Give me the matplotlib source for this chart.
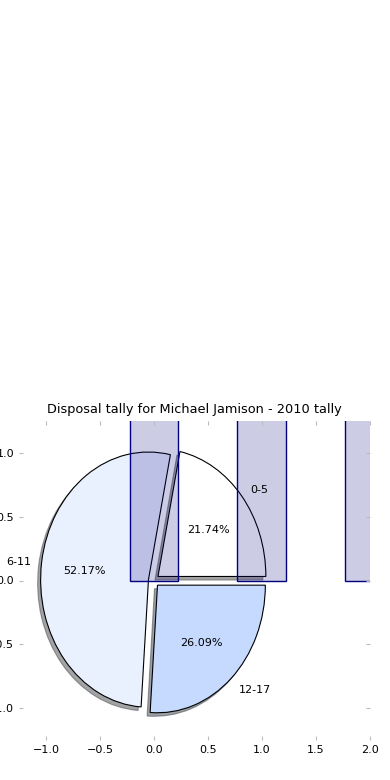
import numpy as np
import matplotlib
matplotlib.use('Agg')
import matplotlib.pyplot as plt

# tally per age group
ages = ['0-5', '6-11', '12-17']
tally = [5, 12, 6]
wedge_colors = ['#ffffff', '#eaf1fe', '#c5dafe']
bar_pos = [0, 1, 2]
xticks = [-1.0, -0.5, 0.0, 0.5, 1.0, 1.5, 2.0]
yticks = [-1.0, -0.5, 0.0, 0.5, 1.0]

fig = plt.figure(figsize=(3.9, 7.8), dpi=100)
ax = fig.add_axes([19/390, 40/780, 350.5/390, 319/780])

pie = ax.pie(tally, labels=ages, explode=[0.05]*3, colors=wedge_colors, shadow=True,
             autopct='%.2f%%', startangle=0,
             wedgeprops=dict(edgecolor='black', linewidth=0.8),
             textprops=dict(fontsize=8))
# nudge the labels a touch lower, like the original render
for t in pie[1] + pie[2]:
    x, y = t.get_position()
    t.set_position((x, y - 0.015))

ax.bar(bar_pos, tally, width=0.45, facecolor=(0, 0, 0.5, 0.2), edgecolor='navy', linewidth=1)

ax.set_aspect('auto')
ax.set_frame_on(False)
ax.set_xlim(-1.25, 2.0)
ax.set_ylim(-1.25, 1.25)
ax.set_xticks(xticks)
ax.set_yticks(yticks)
ax.tick_params(direction='in', top=True, right=True, color='#bbbbbb', length=3, labelsize=8)
ax.set_title('Disposal tally for Michael Jamison - 2010 tally', fontsize=9.3)

fig.savefig('out.png', dpi=100)
